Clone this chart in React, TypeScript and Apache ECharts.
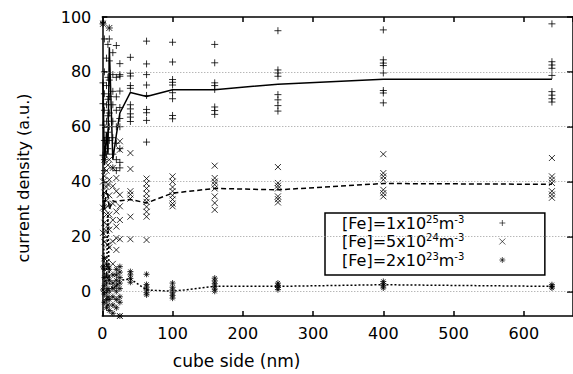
import React, { useEffect, useRef } from 'react';
import * as echarts from 'echarts';

// cube side (nm)
const sizes = [1, 3, 6, 8, 10, 15, 20, 25, 40, 63, 100, 160, 250, 400, 640];

// mean curves
const mean1 = [76, 46, 58, 50, 89, 48, 57, 65, 72.5, 71, 73.5, 73.5, 75.5, 77.3, 77.3];
const mean2 = [42, 30, 37, 35, 30, 33, 32.5, 33, 33.5, 32.2, 35.8, 37.5, 37, 39.3, 39];
const mean3 = [36, 3, 5, 28, 3, 1, 2, 4, 4.5, 0.5, 0, 1.8, 1.8, 2.4, 1.8];

// individual runs, one list per cube side
const runs1 = [
  [97.5, 76, 68.4, 60.6, 49.6],
  [92, 80, 72, 66, 55, 48, 44],
  [85, 75, 68, 62, 56, 50],
  [90, 78, 70, 64, 58, 52],
  [96, 92, 84, 77, 71, 65, 60, 55],
  [87, 79, 72.9, 68, 62, 56, 50, 45],
  [89.6, 78, 70.9, 66, 60, 54, 48, 44],
  [83, 79, 78.4, 73, 67, 63, 60, 52, 47, 45],
  [85.3, 79.5, 78.5, 75, 74, 68, 66.5, 64.7, 63.5, 61.9],
  [91.2, 82.9, 79, 75.2, 71.4, 66.3, 65.1, 62.3, 54.4],
  [90.8, 83.6, 77.2, 76.2, 75.2, 72.4, 70.2, 64.1, 62.9],
  [90, 83.3, 76, 75, 73.6, 67.2, 65.9, 64.5],
  [95, 80.7, 79.6, 78.4, 71.7, 69.8, 67.7, 65.7],
  [95.3, 84.4, 83.2, 82.3, 79.6, 73.2, 72.3, 68.7],
  [97.5, 83.7, 82.5, 81.3, 78.7, 72.8, 71.5, 70.2, 69],
];
const runs2 = [
  [97.5, 40, 30.5, 21.3],
  [48, 42, 36, 30, 25, 18, 12],
  [44, 38, 33, 28, 22],
  [46, 39, 31, 24, 17],
  [96, 48, 40.7, 35, 28, 22.5, 16],
  [45, 38.3, 32, 26, 18.2, 10],
  [41.3, 36.5, 29.1, 23.6, 19.4, 15.1],
  [54.7, 51.6, 35.2, 31, 26, 19, -9],
  [50.4, 44.6, 36.5, 35.3, 33.8, 27.2, 19],
  [41.1, 39.3, 37.5, 35.6, 33.8, 32.6, 30.8, 29, 27.2, 18.7],
  [41.9, 40, 38, 36.5, 35, 33.5, 32, 31],
  [45.8, 41.3, 40, 38.9, 37.5, 34.6, 32.2, 29.7],
  [45.3, 39.5, 38.5, 37.5, 34.6, 33.6, 32.4],
  [50, 43.1, 41.9, 40.7, 37, 35.8, 34.6],
  [48.6, 41.9, 40.7, 39.5, 36.5, 35.3, 34.1],
];
const runs3 = [
  [98, 8.9, 0.5],
  [12, 8, 5, 2, -1, -4],
  [10, 6, 3, 0, -3, -6],
  [9, 5, 1, -2, -5],
  [8, 4, 0, -3, -7],
  [6, 3, 1, -2, -5, -8],
  [8, 6, 4, 2, 0, -3, -6],
  [9, 7, 5, 3, 1, -2, -4, -9],
  [7.2, 6, 4.7, 3.3],
  [6.2, 2.5, 1.5, 0.5, -0.5, -1.3],
  [3, 1.5, 0.5, -0.5, -1.5, -2.5],
  [4.8, 3.8, 2.8, 1.8, 0.8, 0],
  [3, 2.2, 1.4, 0.6],
  [3.6, 2.8, 2, 1.2],
  [2.4, 1.8, 1.2],
];

const seriesNames = ['[Fe]=1x10^25m^-3', '[Fe]=5x10^24m^-3', '[Fe]=2x10^23m^-3'];
const legendBase = ['[Fe]=1x10', '[Fe]=5x10', '[Fe]=2x10'];
const legendExp = ['25', '24', '23'];
const yTicks = [0, 20, 40, 60, 80, 100];
const gridValues = [0, 20, 40, 60, 80];

const FONT = 'DejaVu Sans';
const PLUS = 'path://M5,0L5,10M0,5L10,5';
const CROSS = 'path://M0,0L10,10M10,0L0,10';
const STAR = 'path://M5,0L5,10M0,5L10,5M1.5,1.5L8.5,8.5M8.5,1.5L1.5,8.5';

function points(runs: number[][]) {
  const out: number[][] = [];
  runs.forEach((vals, i) => vals.forEach((v) => out.push([sizes[i], v])));
  return out;
}
function curve(m: number[]) {
  return m.map((v, i) => [sizes[i], v]);
}

export default function App() {
  const ref = useRef<HTMLDivElement>(null);
  useEffect(() => {
    if (!ref.current) return;
    const chart = echarts.init(ref.current, null, { renderer: 'svg' });
    const markerStyle = { color: 'none', borderColor: '#000', borderWidth: 1 };
    const option: any = {
      animation: false,
      backgroundColor: '#fff',
      textStyle: { fontFamily: FONT },
      grid: { left: 102.3, top: 17, right: -4.2, bottom: 58 },
      xAxis: [
        {
          type: 'value', min: 0, max: 670, interval: 100,
          name: 'cube side (nm)', nameLocation: 'middle', nameGap: 36,
          nameTextStyle: { fontFamily: FONT, fontSize: 17, color: '#000', padding: [0, 202, 0, 0] },
          axisLine: { show: true, onZero: false, lineStyle: { color: '#000', width: 1.5 } },
          axisTick: { show: true, inside: true, length: 5, lineStyle: { color: '#000', width: 1.5 } },
          axisLabel: { fontFamily: FONT, fontSize: 16, color: '#000', margin: 9, showMaxLabel: false },
          splitLine: { show: false },
        },
        {
          type: 'value', min: 0, max: 670, interval: 100, position: 'top',
          axisLine: { show: true, onZero: false, lineStyle: { color: '#000', width: 1.5 } },
          axisTick: { show: true, inside: true, length: 5, lineStyle: { color: '#000', width: 1.5 } },
          axisLabel: { show: false },
          splitLine: { show: false },
        },
      ],
      yAxis: [
        {
          type: 'value', min: -9, max: 100,
          name: 'current density (a.u.)', nameLocation: 'middle', nameGap: 71,
          nameTextStyle: { fontFamily: FONT, fontSize: 16, color: '#000', padding: [0, 23, 0, 0] },
          axisLine: { show: true, onZero: false, lineStyle: { color: '#000', width: 1.5 } },
          axisTick: { show: true, inside: true, length: 5, customValues: yTicks, lineStyle: { color: '#000', width: 1.5 } },
          axisLabel: { fontFamily: FONT, fontSize: 16, color: '#000', margin: 11, customValues: yTicks },
          splitLine: { show: false },
        },
        {
          type: 'value', min: -9, max: 100, position: 'right',
          axisLine: { show: true, onZero: false, lineStyle: { color: '#000', width: 1.5 } },
          axisTick: { show: true, inside: true, length: 6, customValues: yTicks, lineStyle: { color: '#000', width: 1.5 } },
          axisLabel: { show: false },
          splitLine: { show: false },
        },
      ],
      legend: {
        data: seriesNames,
        orient: 'vertical',
        align: 'right',
        left: 325,
        top: 213,
        itemWidth: 6,
        itemHeight: 6,
        itemGap: 1.5,
        padding: [1, 37, 7, 17],
        borderColor: '#000',
        borderWidth: 1.5,
        backgroundColor: '#fff',
        inactiveColor: '#000',
        itemStyle: { borderWidth: 0.8 },
        formatter: (name: string) => {
          const i = seriesNames.indexOf(name);
          return `{b|${legendBase[i]}}{s|${legendExp[i]}}{b|m}{s|-3}{g| }`;
        },
        textStyle: {
          fontFamily: FONT, fontSize: 16, color: '#000',
          rich: {
            b: { fontFamily: FONT, fontSize: 16, color: '#000', lineHeight: 18 },
            s: { fontFamily: FONT, fontSize: 10, color: '#000', verticalAlign: 'top', lineHeight: 10 },
            g: { fontFamily: FONT, fontSize: 10, width: 30 },
          },
        },
      },
      series: [
        {
          type: 'line', name: 'mean3', data: curve(mean3), showSymbol: false, symbol: 'none',
          lineStyle: { color: '#000', width: 1.5, type: [2, 2] },
          markLine: {
            silent: true, symbol: 'none', label: { show: false },
            lineStyle: { color: '#999', width: 1, type: [1, 2] },
            data: gridValues.map((v) => ({ yAxis: v })),
          },
          z: 3,
        },
        {
          type: 'line', name: 'mean2', data: curve(mean2), showSymbol: false, symbol: 'none',
          lineStyle: { color: '#000', width: 1.5, type: [5, 3] }, z: 3,
        },
        {
          type: 'line', name: 'mean1', data: curve(mean1), showSymbol: false, symbol: 'none',
          lineStyle: { color: '#000', width: 1.5, type: 'solid' }, z: 3,
        },
        {
          type: 'scatter', name: seriesNames[0], data: points(runs1), symbol: PLUS, symbolSize: 7,
          itemStyle: markerStyle, z: 4,
        },
        {
          type: 'scatter', name: seriesNames[1], data: points(runs2), symbol: CROSS, symbolSize: 6,
          itemStyle: markerStyle, z: 4,
        },
        {
          type: 'scatter', name: seriesNames[2], data: points(runs3), symbol: STAR, symbolSize: 6,
          itemStyle: markerStyle, z: 4,
        },
      ],
    };
    chart.setOption(option);
    return () => chart.dispose();
  }, []);
  return (
    <div
      ref={ref}
      style={{ position: 'fixed', left: 0, top: 0, width: 573, height: 374, background: '#fff' }}
    />
  );
}
